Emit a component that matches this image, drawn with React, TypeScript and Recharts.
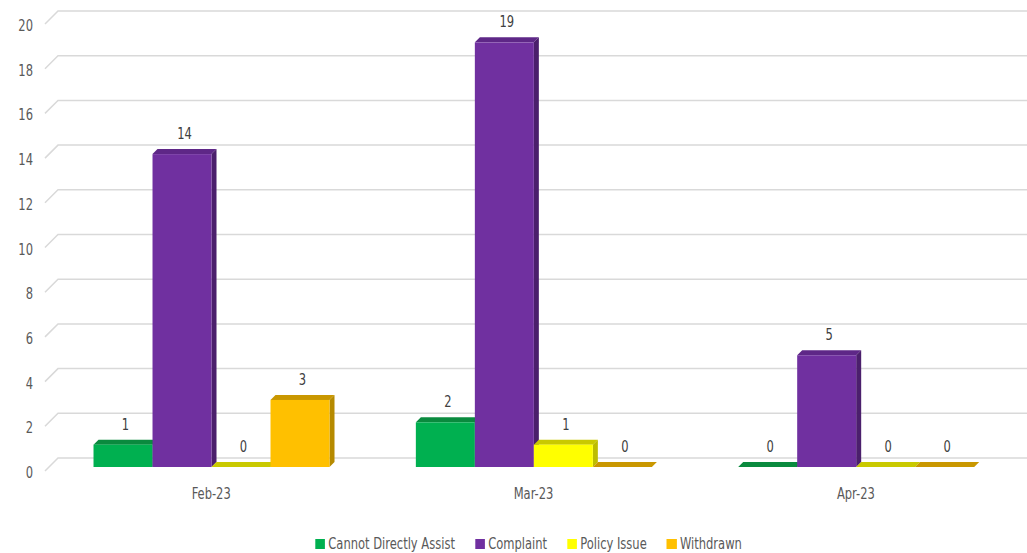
import { BarChart, Bar, XAxis, YAxis, CartesianGrid, Legend, LabelList } from "recharts";

const categories = ["Feb-23", "Mar-23", "Apr-23"];
const cannotAssist = [1, 2, 0];
const complaint = [14, 19, 5];
const policyIssue = [0, 1, 0];
const withdrawn = [3, 0, 0];
const yTicks = [0, 2, 4, 6, 8, 10, 12, 14, 16, 18, 20];

const data = categories.map((month, i) => ({
  month,
  cannot: cannotAssist[i],
  complaint: complaint[i],
  policy: policyIssue[i],
  withdrawn: withdrawn[i],
}));

const FONT = "'DejaVu Sans Condensed', 'DejaVu Sans', sans-serif";
const FS = 16;
const SX = 0.8; // squeeze text horizontally, like the narrow original
const DX = 5;
const DY = 5;

const SERIES = [
  { key: "cannot", name: "Cannot Directly Assist", front: "#00B050", top: "#0A8A3E", side: "#067A35" },
  { key: "complaint", name: "Complaint", front: "#7030A0", top: "#5E2787", side: "#4B1F6C" },
  { key: "policy", name: "Policy Issue", front: "#FFFF00", top: "#C9C900", side: "#BDBD00" },
  { key: "withdrawn", name: "Withdrawn", front: "#FFC000", top: "#C99700", side: "#B68A00" },
];

function NarrowText({ x, y, anchor, fill, children }: any) {
  return (
    <text
      transform={`translate(${x},${y}) scale(${SX},1)`}
      textAnchor={anchor}
      fontSize={FS}
      fill={fill}
      fontFamily={FONT}
    >
      {children}
    </text>
  );
}

function make3DBar(front: string, top: string, side: string) {
  return (props: any) => {
    const { x, y, width, height } = props;
    if (x == null || y == null || !width) return <g />;
    const h = Math.max(0, height || 0);
    return (
      <g>
        <polygon
          points={`${x},${y} ${x + DX},${y - DY} ${x + width + DX},${y - DY} ${x + width},${y}`}
          fill={top}
        />
        {h > 0 && (
          <polygon
            points={`${x + width},${y} ${x + width + DX},${y - DY} ${x + width + DX},${y + h - DY} ${x + width},${y + h}`}
            fill={side}
          />
        )}
        {h > 0 && <rect x={x} y={y} width={width} height={h} fill={front} />}
      </g>
    );
  };
}

function BackGridLine(props: any) {
  const { x1, x2, y1, key } = props;
  return (
    <path
      key={key}
      d={`M${x1 - 5},${y1 + 4} L${x1 + 8},${y1 - 9} L${x2 + 20},${y1 - 9}`}
      fill="none"
      stroke="#D9D9D9"
      strokeWidth={1.5}
    />
  );
}

function YTick(props: any) {
  const { x, y, payload } = props;
  return (
    <NarrowText x={x - 9} y={y + 11} anchor="end" fill="#595959">
      {payload.value}
    </NarrowText>
  );
}

function XTick(props: any) {
  const { x, y, payload } = props;
  return (
    <NarrowText x={x} y={y + 24} anchor="middle" fill="#595959">
      {payload.value}
    </NarrowText>
  );
}

function ValueLabel(props: any) {
  const { x, y, width, value } = props;
  return (
    <NarrowText x={x + width / 2 + DX / 2} y={y - 15} anchor="middle" fill="#404040">
      {value}
    </NarrowText>
  );
}

function LegendContent() {
  return (
    <div
      style={{
        display: "flex",
        justifyContent: "center",
        gap: 25,
        fontFamily: FONT,
        fontSize: FS,
        color: "#595959",
        transform: `translate(20px, 17px) scaleX(${SX})`,
      }}
    >
      {SERIES.map((s) => (
        <div key={s.key} style={{ display: "flex", alignItems: "center", gap: 4 }}>
          <div style={{ width: 12.5, height: 10, background: s.front }} />
          <span>{s.name}</span>
        </div>
      ))}
    </div>
  );
}

export default function App() {
  return (
    <div style={{ position: "fixed", left: 0, top: 0, background: "#fff" }}>
      <BarChart
        width={1027}
        height={553}
        data={data}
        margin={{ top: 20, right: 10, left: 0, bottom: 0 }}
        barCategoryGap="13.5%"
        barGap={0}
      >
        <CartesianGrid vertical={false} horizontal={BackGridLine} />
        <XAxis dataKey="month" axisLine={false} tickLine={false} height={50} tick={<XTick />} />
        <YAxis
          width={50}
          domain={[0, 20]}
          ticks={yTicks}
          axisLine={false}
          tickLine={false}
          tick={<YTick />}
        />
        <Legend verticalAlign="bottom" height={36} content={<LegendContent />} />
        {SERIES.map((s) => (
          <Bar
            key={s.key}
            dataKey={s.key}
            name={s.name}
            fill={s.front}
            isAnimationActive={false}
            shape={make3DBar(s.front, s.top, s.side)}
          >
            <LabelList dataKey={s.key} content={<ValueLabel />} />
          </Bar>
        ))}
      </BarChart>
    </div>
  );
}
